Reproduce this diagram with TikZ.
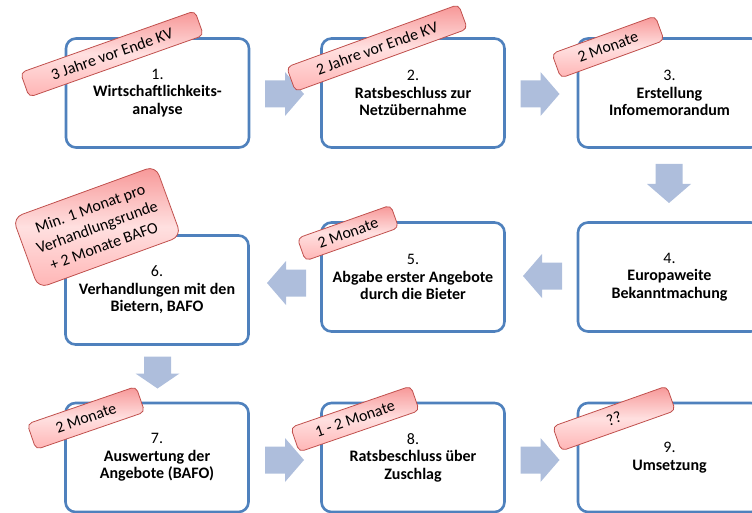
\documentclass[tikz,border=0pt]{standalone}
\usepackage{fontspec}
\setmainfont{Carlito}
\definecolor{boxblue}{RGB}{79,129,189}
\definecolor{arrowc}{RGB}{174,190,220}
\definecolor{lblborder}{RGB}{192,80,77}
\definecolor{lbltop}{RGB}{247,150,150}
\definecolor{lblmid}{RGB}{255,224,224}
\definecolor{lblbot}{RGB}{255,180,180}
\newcommand\blkarrow[5]{%
  \fill[arrowc, shift={(#1,#2)}, rotate=#3]
    ({-#4/2},-13.5) -- ({#4/2-#5},-13.5) -- ({#4/2-#5},-22) -- ({#4/2},0)
    -- ({#4/2-#5},22) -- ({#4/2-#5},13.5) -- ({-#4/2},13.5) -- cycle;}
\tikzset{
  stepbox/.style={draw=boxblue, line width=2.6pt, rounded corners=10pt, fill=white,
    minimum width=183pt, minimum height=109pt, align=center, inner sep=0pt,
    font=\fontsize{16}{17.5}\selectfont},
  tag/.style={draw=lblborder, line width=0.8pt, rounded corners=5pt,
    top color=lbltop, bottom color=lblbot, middle color=lblmid,
    inner sep=0pt, align=center, font=\fontsize{16}{20}\selectfont},
}
\begin{document}
\begin{tikzpicture}[x=1pt,y=-1pt]
\useasboundingbox (0,0) rectangle (752,513);
\clip (0,0) rectangle (752,513);
% boxes
\node[stepbox] (b1) at (157.5,93) {1.\\\textbf{Wirtschaftlichkeits-}\\\textbf{analyse}};
\node[stepbox] (b2) at (413,93) {2.\\\textbf{Ratsbeschluss zur}\\\textbf{Netzübernahme}};
\node[stepbox] (b3) at (669.5,93) {3.\\\textbf{Erstellung}\\\textbf{Infomemorandum}};
\node[stepbox] (b4) at (669.5,277) {4.\\\textbf{Europaweite}\\\textbf{Bekanntmachung}};
\node[stepbox] (b5) at (413,277) {5.\\\textbf{Abgabe erster Angebote}\\\textbf{durch die Bieter}};
\node[stepbox] (b6) at (157,290) {6.\\\textbf{Verhandlungen mit den}\\\textbf{Bietern, BAFO}};
\node[stepbox] (b7) at (157,457.5) {7.\\\textbf{Auswertung der}\\\textbf{Angebote (BAFO)}};
\node[stepbox] (b8) at (413,457.5) {8.\\\textbf{Ratsbeschluss über}\\\textbf{Zuschlag}};
\node[stepbox] (b9) at (669.5,457.5) {9.\\\textbf{Umsetzung}};
% block arrows
\blkarrow{284.5}{94}{0}{39}{19}
\blkarrow{540}{94}{0}{39}{19}
\blkarrow{669}{183.5}{-90}{39}{19}
\blkarrow{542.5}{276}{180}{39}{19}
\blkarrow{286.5}{283}{180}{39}{19}
\blkarrow{157.5}{372.5}{-90}{32}{15}
\blkarrow{284.5}{460}{0}{39}{19}
\blkarrow{540}{460}{0}{39}{19}
% tags
\node[tag, rotate=19.5, minimum width=185pt, minimum height=26pt] (t1) at (112,54) {3 Jahre vor Ende KV};
\node[tag, rotate=20, minimum width=183pt, minimum height=26pt] (t2) at (377,48) {2 Jahre vor Ende KV};
\node[tag, rotate=20, minimum width=110pt, minimum height=26pt] (t3) at (608,47) {2 Monate};
\node[tag, rotate=19.5, minimum width=99pt, minimum height=24pt] (t5) at (348,233) {2 Monate};
\node[tag, rotate=20, minimum width=152pt, minimum height=75pt, rounded corners=10pt] (t6) at (97,227) {Min. 1 Monat pro\\Verhandlungsrunde\\+ 2 Monate BAFO};
\node[tag, rotate=19, minimum width=115pt, minimum height=27pt] (t7) at (86,418) {2 Monate};
\node[tag, rotate=19, minimum width=127pt, minimum height=26pt] (t8) at (355,419) {1 - 2 Monate};
\node[tag, rotate=19.5, minimum width=121pt, minimum height=26pt] (t9) at (614,418.5) {??};
\end{tikzpicture}
\end{document}
